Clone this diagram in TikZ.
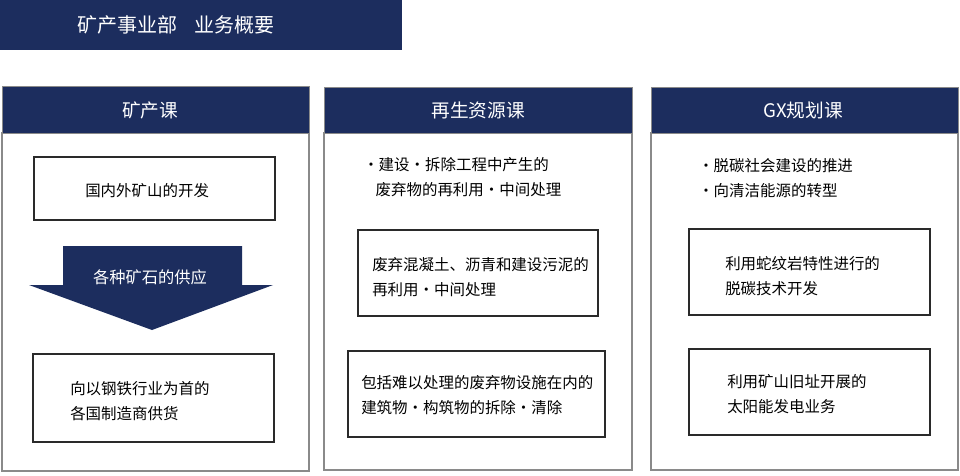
\documentclass[tikz,border=0pt]{standalone}
\usepackage{fontspec}
\setmainfont{Noto Sans CJK SC}
\usetikzlibrary{positioning}
\definecolor{navy}{HTML}{1C2D5E}
\definecolor{panelgray}{HTML}{8A8A8A}
\definecolor{boxline}{HTML}{2A2A2A}

\begin{document}
\begin{tikzpicture}[x=0.75pt,y=-0.75pt,
  panel/.style={draw=panelgray,line width=0.8pt,fill=white},
  head/.style={fill=navy,draw=panelgray,line width=0.6pt},
  inbox/.style={draw=boxline,line width=1.1pt},
  headtxt/.style={text=white,inner sep=0pt,font=\fontsize{14}{16}\selectfont},
  bodytxt/.style={inner sep=0pt,anchor=west,align=left,
    font=\fontsize{11.6}{18.5}\selectfont}]
\useasboundingbox (0,0) rectangle (960,475);

% title banner
\fill[navy] (0,0) rectangle (402,50);
\node[text=white,inner sep=0pt,font=\fontsize{15}{17}\selectfont] (title) at (176,25) {矿产事业部\hspace{0.9em}业务概要};

% panel: mining
\draw[panel] (2,133) rectangle (309,471);
\draw[head] (2,86) rectangle (309,133);
\node[headtxt] (mining) at (150,110) {矿产课};
\draw[inbox] (34,157) rectangle (275,220);
\node[bodytxt] (develop) at (85,191) {国内外矿山的开发};
\fill[navy] (63,246) -- (242,246) -- (242,285) -- (273,285)
  -- (152,330) -- (29,285) -- (63,285) -- cycle;
\node[text=white,inner sep=0pt,font=\fontsize{12.2}{14}\selectfont] (supply) at (150,277) {各种矿石的供应};
\draw[inbox] (33,354) rectangle (274,442);
\node[bodytxt] (deliver) at (70,401) {向以钢铁行业为首的\\各国制造商供货};

% panel: recycling
\draw[panel] (324,133) rectangle (632,470);
\draw[head] (324,87) rectangle (632,133);
\node[headtxt] (recycle) at (478,110) {再生资源课};
\node[bodytxt] (recnote) at (363,177) {·建设·拆除工程中产生的\\\hspace*{0.8em}废弃物的再利用·中间处理};
\draw[inbox] (358,230) rectangle (598,316);
\node[bodytxt] (concrete) at (372,277) {废弃混凝土、沥青和建设污泥的\\再利用·中间处理};
\draw[inbox] (348,351) rectangle (605,437);
\node[bodytxt] (demolish) at (361,395) {包括难以处理的废弃物设施在内的\\建筑物·构筑物的拆除·清除};

% panel: GX planning
\draw[panel] (651,133) rectangle (958,470);
\draw[head] (651,87) rectangle (958,133);
\node[headtxt] (gx) at (803,110) {GX规划课};
\node[bodytxt] (gxnote) at (698,178) {·脱碳社会建设的推进\\·向清洁能源的转型};
\draw[inbox] (689,229) rectangle (930,315);
\node[bodytxt] (serpent) at (725,276) {利用蛇纹岩特性进行的\\脱碳技术开发};
\draw[inbox] (689,349) rectangle (930,435);
\node[bodytxt] (solar) at (727,394) {利用矿山旧址开展的\\太阳能发电业务};
\end{tikzpicture}
\end{document}
